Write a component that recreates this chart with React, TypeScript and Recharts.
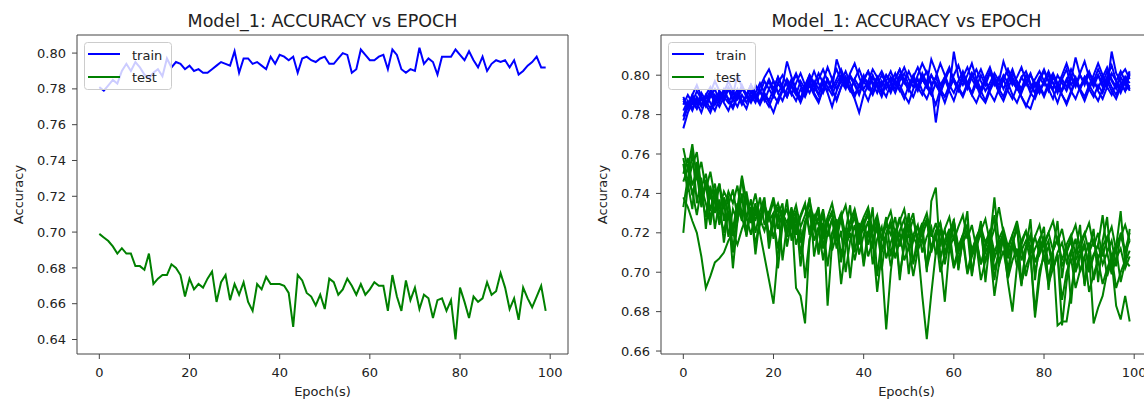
import { LineChart, Line, XAxis, YAxis, ReferenceLine } from 'recharts'

const FONT = 'DejaVu Sans'
const TRAIN_COLOR = '#0000ff'
const TEST_COLOR = '#008000'

// left panel: single run
const trainAcc = [
  0.781, 0.779, 0.782, 0.785, 0.783, 0.79, 0.794, 0.79, 0.795, 0.792,
  0.788, 0.786, 0.789, 0.791, 0.787, 0.797, 0.792, 0.795, 0.794, 0.791,
  0.793, 0.79, 0.791, 0.789, 0.789, 0.791, 0.793, 0.795, 0.794, 0.793,
  0.801, 0.789, 0.797, 0.797, 0.794, 0.795, 0.793, 0.791, 0.798, 0.794,
  0.799, 0.798, 0.796, 0.798, 0.789, 0.797, 0.798, 0.796, 0.795, 0.797,
  0.798, 0.794, 0.794, 0.797, 0.8, 0.799, 0.789, 0.791, 0.802, 0.799,
  0.796, 0.796, 0.798, 0.799, 0.791, 0.802, 0.799, 0.791, 0.789, 0.791,
  0.79, 0.803, 0.794, 0.797, 0.795, 0.788, 0.798, 0.798, 0.798, 0.802,
  0.799, 0.796, 0.801, 0.796, 0.792, 0.798, 0.79, 0.794, 0.796, 0.795,
  0.796, 0.792, 0.796, 0.788, 0.79, 0.793, 0.795, 0.798, 0.792, 0.792,
]
const testAcc = [
  0.699, 0.697, 0.695, 0.692, 0.688, 0.691, 0.688, 0.688, 0.681, 0.681,
  0.679, 0.688, 0.671, 0.674, 0.676, 0.676, 0.682, 0.68, 0.676, 0.664,
  0.674, 0.668, 0.671, 0.669, 0.674, 0.678, 0.661, 0.672, 0.676, 0.662,
  0.671, 0.665, 0.672, 0.661, 0.656, 0.671, 0.668, 0.675, 0.671, 0.671,
  0.671, 0.67, 0.666, 0.647, 0.676, 0.673, 0.666, 0.664, 0.659, 0.665,
  0.657, 0.674, 0.672, 0.665, 0.668, 0.674, 0.67, 0.665, 0.671, 0.665,
  0.668, 0.672, 0.67, 0.67, 0.656, 0.676, 0.664, 0.656, 0.673, 0.662,
  0.669, 0.657, 0.665, 0.663, 0.652, 0.662, 0.663, 0.656, 0.662, 0.64,
  0.669, 0.661, 0.652, 0.664, 0.661, 0.663, 0.672, 0.665, 0.667, 0.677,
  0.669, 0.657, 0.663, 0.651, 0.669, 0.663, 0.658, 0.664, 0.67, 0.656,
]

// right panel: repeated runs
const trainRunA = [
  0.773, 0.781, 0.786, 0.783, 0.788, 0.785, 0.79, 0.787, 0.792, 0.789, 0.786, 0.791, 0.788, 0.793, 0.79, 0.787, 0.795, 0.791, 0.797, 0.793,
  0.789, 0.796, 0.792, 0.798, 0.794, 0.79, 0.797, 0.793, 0.799, 0.795, 0.801, 0.796, 0.792, 0.798, 0.803, 0.797, 0.793, 0.8, 0.796, 0.791,
  0.798, 0.802, 0.795, 0.799, 0.794, 0.8, 0.796, 0.791, 0.797, 0.801, 0.795, 0.799, 0.793, 0.798, 0.802, 0.796, 0.776, 0.792, 0.799, 0.804,
  0.797, 0.792, 0.798, 0.795, 0.801, 0.796, 0.791, 0.797, 0.802, 0.795, 0.799, 0.793, 0.798, 0.803, 0.796, 0.791, 0.797, 0.801, 0.794, 0.799,
  0.795, 0.8, 0.796, 0.791, 0.798, 0.803, 0.795, 0.799, 0.793, 0.798, 0.802, 0.796, 0.8, 0.794, 0.799, 0.805, 0.797, 0.793, 0.799, 0.796,
]
const trainRunB = [
  0.789, 0.784, 0.79, 0.786, 0.781, 0.788, 0.792, 0.785, 0.79, 0.787, 0.793, 0.788, 0.784, 0.79, 0.786, 0.792, 0.788, 0.794, 0.799, 0.803,
  0.797, 0.791, 0.795, 0.807, 0.799, 0.793, 0.788, 0.794, 0.8, 0.796, 0.79, 0.797, 0.804, 0.798, 0.793, 0.799, 0.795, 0.801, 0.806, 0.799,
  0.793, 0.797, 0.803, 0.799, 0.795, 0.8, 0.797, 0.793, 0.799, 0.804, 0.798, 0.794, 0.8, 0.806, 0.801, 0.795, 0.799, 0.806, 0.8, 0.794,
  0.8, 0.805, 0.798, 0.793, 0.799, 0.803, 0.797, 0.792, 0.796, 0.801, 0.797, 0.807, 0.8, 0.795, 0.799, 0.804, 0.797, 0.793, 0.798, 0.802,
  0.797, 0.792, 0.799, 0.795, 0.8, 0.806, 0.799, 0.794, 0.8, 0.796, 0.801, 0.797, 0.793, 0.799, 0.804, 0.798, 0.794, 0.8, 0.803, 0.798,
]
const trainRunC = [
  0.782, 0.787, 0.783, 0.789, 0.785, 0.79, 0.794, 0.788, 0.784, 0.789, 0.793, 0.787, 0.791, 0.786, 0.79, 0.795, 0.789, 0.785, 0.79, 0.786,
  0.781, 0.788, 0.793, 0.789, 0.795, 0.791, 0.786, 0.792, 0.797, 0.791, 0.787, 0.793, 0.798, 0.792, 0.788, 0.794, 0.799, 0.793, 0.788, 0.781,
  0.79, 0.795, 0.8, 0.794, 0.789, 0.796, 0.791, 0.797, 0.793, 0.788, 0.795, 0.8, 0.794, 0.79, 0.796, 0.791, 0.785, 0.793, 0.798, 0.792,
  0.787, 0.794, 0.79, 0.796, 0.801, 0.795, 0.789, 0.786, 0.792, 0.797, 0.791, 0.787, 0.793, 0.799, 0.794, 0.789, 0.784, 0.79, 0.796, 0.791,
  0.797, 0.793, 0.788, 0.795, 0.79, 0.786, 0.792, 0.798, 0.793, 0.789, 0.795, 0.791, 0.787, 0.793, 0.799, 0.794, 0.79, 0.796, 0.792, 0.795,
]
const trainRunD = [
  0.785, 0.79, 0.786, 0.792, 0.788, 0.784, 0.789, 0.793, 0.787, 0.791, 0.797, 0.792, 0.788, 0.794, 0.79, 0.795, 0.791, 0.786, 0.793, 0.798,
  0.793, 0.799, 0.794, 0.79, 0.796, 0.801, 0.795, 0.791, 0.797, 0.792, 0.798, 0.803, 0.797, 0.793, 0.808, 0.801, 0.796, 0.792, 0.798, 0.794,
  0.799, 0.796, 0.791, 0.798, 0.802, 0.797, 0.793, 0.798, 0.803, 0.797, 0.792, 0.798, 0.794, 0.801, 0.796, 0.808, 0.802, 0.795, 0.799, 0.793,
  0.812, 0.799, 0.795, 0.8, 0.806, 0.798, 0.793, 0.799, 0.804, 0.797, 0.792, 0.798, 0.803, 0.797, 0.793, 0.799, 0.802, 0.796, 0.791, 0.798,
  0.803, 0.797, 0.793, 0.8, 0.796, 0.792, 0.798, 0.809, 0.8, 0.795, 0.801, 0.797, 0.803, 0.798, 0.794, 0.812, 0.801, 0.797, 0.792, 0.801,
]
const trainRunE = [
  0.787, 0.783, 0.789, 0.785, 0.791, 0.787, 0.783, 0.79, 0.786, 0.792, 0.788, 0.784, 0.79, 0.785, 0.789, 0.794, 0.788, 0.792, 0.787, 0.793,
  0.797, 0.791, 0.787, 0.793, 0.798, 0.792, 0.788, 0.795, 0.8, 0.794, 0.79, 0.796, 0.791, 0.784, 0.792, 0.797, 0.802, 0.796, 0.79, 0.795,
  0.792, 0.787, 0.794, 0.799, 0.793, 0.789, 0.796, 0.801, 0.795, 0.79, 0.786, 0.793, 0.798, 0.792, 0.788, 0.794, 0.799, 0.793, 0.789, 0.795,
  0.791, 0.797, 0.802, 0.796, 0.79, 0.786, 0.792, 0.797, 0.791, 0.787, 0.793, 0.798, 0.792, 0.788, 0.794, 0.789, 0.785, 0.783, 0.79, 0.795,
  0.79, 0.796, 0.792, 0.786, 0.793, 0.798, 0.792, 0.788, 0.794, 0.799, 0.793, 0.789, 0.795, 0.791, 0.797, 0.792, 0.788, 0.794, 0.799, 0.793,
]
const trainRunF = [
  0.779, 0.786, 0.782, 0.788, 0.784, 0.79, 0.786, 0.782, 0.788, 0.793, 0.787, 0.783, 0.789, 0.795, 0.79, 0.786, 0.791, 0.796, 0.791, 0.787,
  0.793, 0.799, 0.793, 0.789, 0.795, 0.8, 0.795, 0.79, 0.796, 0.802, 0.796, 0.791, 0.797, 0.793, 0.798, 0.803, 0.797, 0.792, 0.798, 0.803,
  0.797, 0.793, 0.799, 0.795, 0.8, 0.796, 0.792, 0.798, 0.803, 0.797, 0.793, 0.799, 0.804, 0.798, 0.794, 0.8, 0.796, 0.791, 0.798, 0.803,
  0.797, 0.793, 0.799, 0.804, 0.798, 0.794, 0.8, 0.795, 0.801, 0.797, 0.792, 0.798, 0.803, 0.797, 0.793, 0.799, 0.795, 0.8, 0.796, 0.791,
  0.797, 0.802, 0.796, 0.792, 0.798, 0.794, 0.8, 0.795, 0.801, 0.807, 0.799, 0.794, 0.8, 0.796, 0.802, 0.797, 0.793, 0.799, 0.795, 0.8,
]
const trainRunG = [
  0.788, 0.784, 0.79, 0.795, 0.789, 0.785, 0.791, 0.797, 0.792, 0.788, 0.794, 0.79, 0.8, 0.794, 0.789, 0.795, 0.79, 0.786, 0.792, 0.797,
  0.791, 0.796, 0.8, 0.795, 0.79, 0.796, 0.801, 0.795, 0.791, 0.797, 0.793, 0.798, 0.794, 0.79, 0.796, 0.8, 0.794, 0.799, 0.795, 0.79,
  0.797, 0.802, 0.796, 0.791, 0.797, 0.793, 0.799, 0.795, 0.8, 0.796, 0.802, 0.797, 0.792, 0.798, 0.794, 0.8, 0.795, 0.791, 0.797, 0.803,
  0.798, 0.794, 0.8, 0.796, 0.791, 0.798, 0.803, 0.797, 0.793, 0.799, 0.795, 0.8, 0.796, 0.801, 0.797, 0.793, 0.8, 0.795, 0.791, 0.797,
  0.802, 0.797, 0.801, 0.796, 0.792, 0.797, 0.803, 0.798, 0.793, 0.799, 0.795, 0.8, 0.806, 0.8, 0.795, 0.801, 0.797, 0.802, 0.797, 0.802,
]
const trainRunH = [
  0.777, 0.784, 0.788, 0.783, 0.789, 0.785, 0.781, 0.787, 0.791, 0.786, 0.782, 0.788, 0.793, 0.787, 0.783, 0.79, 0.786, 0.792, 0.788, 0.784,
  0.79, 0.786, 0.792, 0.797, 0.791, 0.787, 0.793, 0.789, 0.795, 0.79, 0.786, 0.793, 0.798, 0.793, 0.787, 0.794, 0.799, 0.793, 0.789, 0.795,
  0.8, 0.794, 0.79, 0.796, 0.791, 0.797, 0.802, 0.796, 0.792, 0.798, 0.793, 0.789, 0.795, 0.8, 0.794, 0.79, 0.796, 0.792, 0.786, 0.793,
  0.798, 0.793, 0.789, 0.795, 0.79, 0.796, 0.792, 0.787, 0.794, 0.799, 0.793, 0.789, 0.796, 0.79, 0.786, 0.792, 0.797, 0.791, 0.788, 0.794,
  0.789, 0.795, 0.8, 0.794, 0.79, 0.785, 0.791, 0.797, 0.792, 0.787, 0.793, 0.798, 0.792, 0.788, 0.794, 0.79, 0.796, 0.791, 0.797, 0.792,
]

const testRunA = [
  0.763, 0.752, 0.765, 0.748, 0.756, 0.742, 0.751, 0.738, 0.745, 0.732, 0.741, 0.735, 0.744, 0.729, 0.737, 0.731, 0.74, 0.727, 0.734, 0.728,
  0.736, 0.722, 0.73, 0.725, 0.733, 0.719, 0.728, 0.734, 0.721, 0.729, 0.724, 0.732, 0.718, 0.727, 0.722, 0.73, 0.716, 0.725, 0.731, 0.72,
  0.727, 0.714, 0.723, 0.729, 0.717, 0.724, 0.719, 0.728, 0.713, 0.722, 0.727, 0.716, 0.723, 0.718, 0.726, 0.712, 0.721, 0.725, 0.714, 0.72,
  0.726, 0.713, 0.719, 0.724, 0.711, 0.718, 0.723, 0.715, 0.721, 0.71, 0.717, 0.722, 0.713, 0.719, 0.708, 0.716, 0.721, 0.712, 0.718, 0.709,
  0.715, 0.72, 0.711, 0.717, 0.706, 0.714, 0.719, 0.709, 0.715, 0.72, 0.71, 0.716, 0.707, 0.713, 0.718, 0.708, 0.714, 0.719, 0.71, 0.716,
]
const testRunB = [
  0.738, 0.733, 0.726, 0.72, 0.708, 0.692, 0.698, 0.705, 0.707, 0.71, 0.716, 0.72, 0.714, 0.722, 0.728, 0.719, 0.731, 0.724, 0.733, 0.726,
  0.73, 0.735, 0.727, 0.732, 0.723, 0.729, 0.715, 0.726, 0.731, 0.722, 0.728, 0.717, 0.725, 0.73, 0.72, 0.727, 0.713, 0.722, 0.728, 0.718,
  0.724, 0.729, 0.716, 0.722, 0.711, 0.72, 0.726, 0.714, 0.721, 0.727, 0.712, 0.719, 0.724, 0.71, 0.718, 0.723, 0.709, 0.716, 0.721, 0.712,
  0.718, 0.706, 0.715, 0.72, 0.71, 0.716, 0.704, 0.713, 0.718, 0.707, 0.714, 0.719, 0.709, 0.715, 0.703, 0.711, 0.716, 0.706, 0.712, 0.717,
  0.707, 0.713, 0.702, 0.71, 0.715, 0.705, 0.711, 0.7, 0.708, 0.713, 0.703, 0.709, 0.714, 0.704, 0.71, 0.699, 0.707, 0.712, 0.702, 0.708,
]
const testRunC = [
  0.72, 0.745, 0.732, 0.756, 0.739, 0.728, 0.744, 0.722, 0.737, 0.715, 0.731, 0.702, 0.726, 0.74, 0.718, 0.733, 0.709, 0.728, 0.736, 0.712,
  0.727, 0.733, 0.706, 0.724, 0.73, 0.692, 0.688, 0.674, 0.716, 0.728, 0.711, 0.725, 0.703, 0.72, 0.726, 0.708, 0.722, 0.697, 0.718, 0.725,
  0.705, 0.721, 0.712, 0.727, 0.701, 0.719, 0.724, 0.707, 0.716, 0.722, 0.699, 0.718, 0.713, 0.688, 0.666, 0.689, 0.71, 0.722, 0.704, 0.717,
  0.723, 0.702, 0.716, 0.721, 0.698, 0.714, 0.72, 0.705, 0.717, 0.696, 0.712, 0.719, 0.701, 0.715, 0.709, 0.693, 0.713, 0.718, 0.7, 0.711,
  0.716, 0.695, 0.71, 0.673, 0.675, 0.675, 0.69, 0.706, 0.712, 0.694, 0.709, 0.674, 0.682, 0.688, 0.7, 0.706, 0.683, 0.676, 0.688, 0.675,
]
const testRunD = [
  0.75, 0.758, 0.744, 0.752, 0.736, 0.747, 0.731, 0.742, 0.725, 0.738, 0.73, 0.719, 0.734, 0.726, 0.741, 0.728, 0.735, 0.72, 0.708, 0.696,
  0.684, 0.71, 0.727, 0.718, 0.732, 0.722, 0.729, 0.735, 0.719, 0.727, 0.733, 0.712, 0.726, 0.731, 0.716, 0.728, 0.734, 0.721, 0.729, 0.714,
  0.725, 0.731, 0.717, 0.723, 0.705, 0.671, 0.7, 0.72, 0.728, 0.715, 0.724, 0.73, 0.713, 0.722, 0.727, 0.71, 0.719, 0.725, 0.709, 0.72,
  0.726, 0.711, 0.718, 0.724, 0.708, 0.717, 0.723, 0.71, 0.716, 0.738, 0.714, 0.72, 0.707, 0.715, 0.722, 0.706, 0.713, 0.719, 0.705, 0.712,
  0.718, 0.704, 0.711, 0.717, 0.703, 0.71, 0.716, 0.702, 0.709, 0.715, 0.7, 0.708, 0.714, 0.729, 0.71, 0.716, 0.703, 0.72, 0.711, 0.72,
]
const testRunE = [
  0.755, 0.741, 0.762, 0.735, 0.748, 0.722, 0.743, 0.73, 0.745, 0.726, 0.739, 0.71, 0.733, 0.748, 0.727, 0.737, 0.72, 0.731, 0.738, 0.715,
  0.73, 0.702, 0.724, 0.737, 0.716, 0.729, 0.703, 0.722, 0.738, 0.708, 0.721, 0.73, 0.683, 0.715, 0.727, 0.705, 0.721, 0.734, 0.71, 0.723,
  0.703, 0.719, 0.733, 0.698, 0.717, 0.728, 0.708, 0.722, 0.696, 0.716, 0.73, 0.704, 0.719, 0.725, 0.7, 0.736, 0.743, 0.708, 0.685, 0.712,
  0.727, 0.701, 0.718, 0.731, 0.699, 0.714, 0.726, 0.695, 0.716, 0.729, 0.703, 0.72, 0.697, 0.713, 0.725, 0.694, 0.712, 0.727, 0.696, 0.716,
  0.723, 0.691, 0.712, 0.726, 0.697, 0.714, 0.684, 0.71, 0.724, 0.693, 0.711, 0.722, 0.695, 0.716, 0.728, 0.7, 0.713, 0.731, 0.704, 0.722,
]
const testRunF = [
  0.746, 0.753, 0.739, 0.75, 0.733, 0.745, 0.727, 0.738, 0.724, 0.736, 0.718, 0.732, 0.726, 0.739, 0.721, 0.73, 0.714, 0.727, 0.733, 0.719,
  0.725, 0.712, 0.728, 0.72, 0.731, 0.714, 0.722, 0.697, 0.717, 0.724, 0.709, 0.721, 0.727, 0.711, 0.719, 0.694, 0.713, 0.72, 0.706, 0.717,
  0.723, 0.708, 0.716, 0.69, 0.71, 0.718, 0.703, 0.714, 0.72, 0.706, 0.713, 0.698, 0.711, 0.717, 0.704, 0.712, 0.719, 0.7, 0.709, 0.715,
  0.702, 0.71, 0.716, 0.699, 0.708, 0.714, 0.696, 0.706, 0.712, 0.688, 0.704, 0.711, 0.697, 0.706, 0.712, 0.695, 0.703, 0.709, 0.68, 0.701,
  0.708, 0.694, 0.702, 0.709, 0.686, 0.7, 0.707, 0.692, 0.701, 0.708, 0.69, 0.699, 0.706, 0.694, 0.702, 0.708, 0.692, 0.7, 0.706, 0.703,
]
const testRunG = [
  0.733, 0.748, 0.741, 0.729, 0.743, 0.735, 0.724, 0.738, 0.731, 0.72, 0.734, 0.742, 0.728, 0.749, 0.736, 0.725, 0.733, 0.727, 0.721, 0.73,
  0.738, 0.726, 0.732, 0.719, 0.727, 0.734, 0.723, 0.729, 0.737, 0.725, 0.731, 0.72, 0.728, 0.735, 0.724, 0.73, 0.718, 0.726, 0.732, 0.722,
  0.728, 0.733, 0.721, 0.727, 0.716, 0.725, 0.731, 0.719, 0.726, 0.732, 0.72, 0.727, 0.715, 0.724, 0.73, 0.718, 0.725, 0.713, 0.722, 0.728,
  0.716, 0.723, 0.729, 0.717, 0.724, 0.712, 0.721, 0.727, 0.715, 0.722, 0.733, 0.72, 0.711, 0.719, 0.726, 0.714, 0.721, 0.709, 0.718, 0.724,
  0.713, 0.72, 0.726, 0.715, 0.722, 0.71, 0.718, 0.724, 0.712, 0.719, 0.725, 0.713, 0.72, 0.708, 0.717, 0.723, 0.711, 0.718, 0.724, 0.716,
]
const testRunH = [
  0.758, 0.746, 0.754, 0.761, 0.743, 0.75, 0.737, 0.745, 0.732, 0.741, 0.736, 0.722, 0.735, 0.728, 0.719, 0.733, 0.726, 0.738, 0.724, 0.731,
  0.717, 0.729, 0.735, 0.713, 0.726, 0.731, 0.709, 0.724, 0.73, 0.716, 0.723, 0.706, 0.72, 0.727, 0.712, 0.721, 0.7, 0.716, 0.724, 0.709,
  0.719, 0.726, 0.704, 0.717, 0.723, 0.707, 0.715, 0.722, 0.699, 0.713, 0.72, 0.705, 0.714, 0.721, 0.702, 0.712, 0.718, 0.707, 0.716, 0.722,
  0.703, 0.712, 0.719, 0.7, 0.711, 0.717, 0.704, 0.713, 0.72, 0.701, 0.71, 0.716, 0.695, 0.68, 0.703, 0.714, 0.698, 0.709, 0.677, 0.697,
  0.711, 0.716, 0.701, 0.709, 0.673, 0.695, 0.71, 0.717, 0.7, 0.708, 0.715, 0.696, 0.707, 0.713, 0.698, 0.706, 0.712, 0.695, 0.705, 0.711,
]

const trainRuns = [trainRunA, trainRunB, trainRunC, trainRunD, trainRunE, trainRunF, trainRunG, trainRunH]
const testRuns = [testRunA, testRunB, testRunC, testRunD, testRunE, testRunF, testRunG, testRunH]

const xTicks = [0, 20, 40, 60, 80, 100]
const xDomain = [-4.95, 103.95]
const leftYTicks = [0.64, 0.66, 0.68, 0.7, 0.72, 0.74, 0.76, 0.78, 0.8]
const leftYDomain = [0.6319, 0.8101]
const rightYTicks = [0.66, 0.68, 0.7, 0.72, 0.74, 0.76, 0.78, 0.8]
const rightYDomain = [0.6585, 0.8204]

const leftData = trainAcc.map((v, i) => ({ epoch: i, train: v, test: testAcc[i] }))
const rightData = trainRunA.map((_, i) => {
  const row: Record<string, number> = { epoch: i }
  trainRuns.forEach((run, k) => { row[`train${k}`] = run[i] })
  testRuns.forEach((run, k) => { row[`test${k}`] = run[i] })
  return row
})

const leftSeries = [
  { key: 'train', color: TRAIN_COLOR },
  { key: 'test', color: TEST_COLOR },
]
const rightSeries = trainRuns.flatMap((_, k) => [
  { key: `train${k}`, color: TRAIN_COLOR },
  { key: `test${k}`, color: TEST_COLOR },
])

const tickStyle = { fill: '#222', fontSize: 13, fontFamily: FONT }

const Panel = ({ data, left, yDomain, yTicks, yWidth, marginRight, series }) => (
  <div style={{ position: 'absolute', left, top: 0 }}>
    <LineChart
      width={580}
      height={401}
      data={data}
      margin={{ top: 35, right: marginRight, bottom: 17, left: 0 }}
    >
      <XAxis
        dataKey="epoch"
        type="number"
        domain={xDomain}
        ticks={xTicks}
        allowDataOverflow
        height={30}
        tickSize={5}
        tickMargin={9}
        stroke="#444"
        tick={tickStyle}
      />
      <YAxis
        type="number"
        domain={yDomain}
        ticks={yTicks}
        allowDataOverflow
        width={yWidth}
        tickSize={5}
        tickMargin={6}
        stroke="#444"
        tick={tickStyle}
        tickFormatter={(v) => v.toFixed(2)}
      />
      <ReferenceLine y={yDomain[1]} stroke="#444" />
      <ReferenceLine x={xDomain[1]} stroke="#444" />
      {series.map((s) => (
        <Line
          key={s.key}
          type="linear"
          dataKey={s.key}
          stroke={s.color}
          strokeWidth={2}
          dot={false}
          activeDot={false}
          isAnimationActive={false}
        />
      ))}
    </LineChart>
  </div>
)

export default function App() {
  return (
    <div style={{ position: 'absolute', left: 0, top: 0, width: 1144, height: 401, overflow: 'hidden', background: '#fff' }}>
      <Panel data={leftData} left={0} yDomain={leftYDomain} yTicks={leftYTicks} yWidth={77} marginRight={12} series={leftSeries} />
      <Panel data={rightData} left={580} yDomain={rightYDomain} yTicks={rightYTicks} yWidth={81} marginRight={8} series={rightSeries} />
      <svg
        width={1144}
        height={401}
        style={{ position: 'absolute', left: 0, top: 0, pointerEvents: 'none' }}
        fontFamily={FONT}
      >
        {[0, 584].map((dx) => (
          <g key={dx} transform={`translate(${dx},0)`}>
            <text x={322.5} y={27} textAnchor="middle" fontSize={17.5} fill="#222">Model_1: ACCURACY vs EPOCH</text>
            <text x={322.5} y={396} textAnchor="middle" fontSize={13} fill="#222">Epoch(s)</text>
            <text transform="translate(23,194.5) rotate(-90)" textAnchor="middle" fontSize={13} fill="#222">Accuracy</text>
            <rect x={84.5} y={42.5} width={87} height={47} rx={3} fill="#fff" fillOpacity={0.8} stroke="#ccc" />
            <line x1={88} x2={120} y1={54} y2={54} stroke={TRAIN_COLOR} strokeWidth={2} />
            <text x={132} y={60} fontSize={13} fill="#222">train</text>
            <line x1={88} x2={120} y1={77} y2={77} stroke={TEST_COLOR} strokeWidth={2} />
            <text x={132} y={82} fontSize={13} fill="#222">test</text>
          </g>
        ))}
      </svg>
    </div>
  )
}
